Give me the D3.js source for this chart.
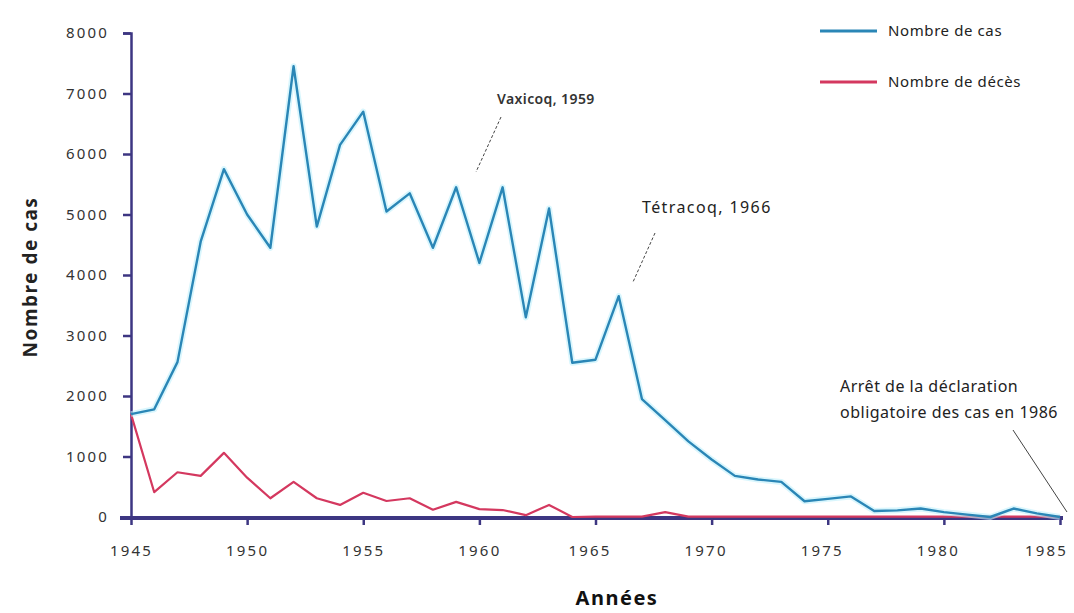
<!DOCTYPE html>
<html><head><meta charset="utf-8">
<script src="https://cdn.jsdelivr.net/npm/d3@7"></script>
<style>
body{margin:0;background:#fff;}
svg{display:block;}
text{font-family:"Noto Sans","DejaVu Sans",sans-serif;}
</style></head>
<body><svg id="c" width="1074" height="613"></svg>
<script>
const years = d3.range(1945, 1986);
const cases = [1700,1780,2560,4550,5750,5000,4450,7450,4800,6150,6700,5050,5350,4450,5450,4200,5450,3300,5100,2550,2600,3650,1950,1600,1250,950,680,620,580,260,300,340,100,110,140,80,40,0,140,60,0];
const deaths = [1700,410,740,680,1060,650,310,580,310,200,400,265,310,120,250,130,115,30,200,0,5,5,5,80,5,5,5,5,5,5,5,5,5,5,5,5,5,5,5,5,5];
const yTicks = [0,1000,2000,3000,4000,5000,6000,7000,8000];
const xTicks = [1945,1950,1955,1960,1965,1970,1975,1980,1985];
const seriesNames = ["Nombre de cas","Nombre de décès"];
const seriesColors = ["#2a86b6","#d4385f"];

const svg = d3.select("#c");
const x = d3.scaleLinear().domain([1945,1985]).range([131,1060]);
const y = d3.scaleLinear().domain([0,8000]).range([517,33]);
const axisCol = "#3d3682";

// Y axis
const ya = svg.append("g").attr("transform","translate(131,0)")
  .call(d3.axisLeft(y).tickValues(yTicks).tickSize(8).tickPadding(14).tickFormat(d3.format("d")));
ya.select(".domain").attr("stroke",axisCol).attr("stroke-width",2.5);
ya.selectAll(".tick line").attr("stroke",axisCol).attr("stroke-width",2.5);
ya.selectAll(".tick text").attr("font-size",15).attr("letter-spacing","2.2px").attr("fill","#333")
  .attr("text-anchor","end");

// X axis
const xa = svg.append("g").attr("transform","translate(0,518)")
  .call(d3.axisBottom(x).tickValues(xTicks).tickSize(7).tickPadding(20).tickFormat(d3.format("d")));
xa.select(".domain").attr("d","M120,0H1063").attr("stroke",axisCol).attr("stroke-width",4);
xa.selectAll(".tick line").attr("stroke",axisCol).attr("stroke-width",2.5);
xa.selectAll(".tick text").attr("font-size",15).attr("letter-spacing","2.2px").attr("fill","#333")
  .attr("dx",d=>d===1985?-14:(d>=1965?-6:0));

// Lines
const line = d3.line().x((d,i)=>x(years[i])).y(d=>y(d));
svg.append("path").datum(deaths).attr("d",line).attr("fill","none")
  .attr("stroke",seriesColors[1]).attr("stroke-width",2.2).attr("stroke-linejoin","round");
svg.append("path").datum(cases).attr("d",line).attr("fill","none")
  .attr("stroke","#bff0fb").attr("stroke-width",6).attr("stroke-linejoin","round").attr("opacity",0.6);
svg.append("path").datum(cases).attr("d",line).attr("fill","none")
  .attr("stroke",seriesColors[0]).attr("stroke-width",2.4).attr("stroke-linejoin","round");

// Axis titles
svg.append("text").attr("transform","translate(37,277) rotate(-90)").attr("text-anchor","middle")
  .attr("font-size",19).attr("letter-spacing","1.5px").attr("font-weight","bold").attr("fill","#222").text("Nombre de cas");
svg.append("text").attr("x",617).attr("y",605).attr("text-anchor","middle")
  .attr("font-size",20).attr("letter-spacing","1.5px").attr("font-weight","bold").attr("fill","#111").text("Années");

// Legend
const lg = svg.append("g");
seriesNames.forEach((n,i)=>{
  const yy = [31,82][i];
  lg.append("line").attr("x1",820).attr("x2",877).attr("y1",yy).attr("y2",yy)
    .attr("stroke",seriesColors[i]).attr("stroke-width",3);
  lg.append("text").attr("x",888).attr("y",yy+5).attr("font-size",15).attr("letter-spacing","0.6px")
    .attr("fill","#222").text(n);
});

// Annotations
svg.append("text").attr("x",497).attr("y",104).attr("font-size",14).attr("font-weight","600").attr("letter-spacing","0.4px")
  .attr("fill","#333").attr("font-family","Liberation Sans, sans-serif").text("Vaxicoq, 1959");
svg.append("line").attr("x1",501).attr("y1",117).attr("x2",476).attr("y2",172)
  .attr("stroke","#444").attr("stroke-width",1).attr("stroke-dasharray","3,2");
svg.append("text").attr("x",642).attr("y",213).attr("font-size",16).attr("letter-spacing","1.4px")
  .attr("fill","#222").text("Tétracoq, 1966");
svg.append("line").attr("x1",655).attr("y1",233).attr("x2",633).attr("y2",282)
  .attr("stroke","#444").attr("stroke-width",1).attr("stroke-dasharray","3,2");
const an = svg.append("text").attr("font-size",16).attr("letter-spacing","0.5px").attr("fill","#222")
  .attr("font-family","Liberation Sans, sans-serif");
an.append("tspan").attr("x",840).attr("y",392).text("Arrêt de la déclaration");
an.append("tspan").attr("x",840).attr("y",418).text("obligatoire des cas en 1986");
svg.append("line").attr("x1",1013).attr("y1",430).attr("x2",1067).attr("y2",512)
  .attr("stroke","#444").attr("stroke-width",1);
</script></body></html>
